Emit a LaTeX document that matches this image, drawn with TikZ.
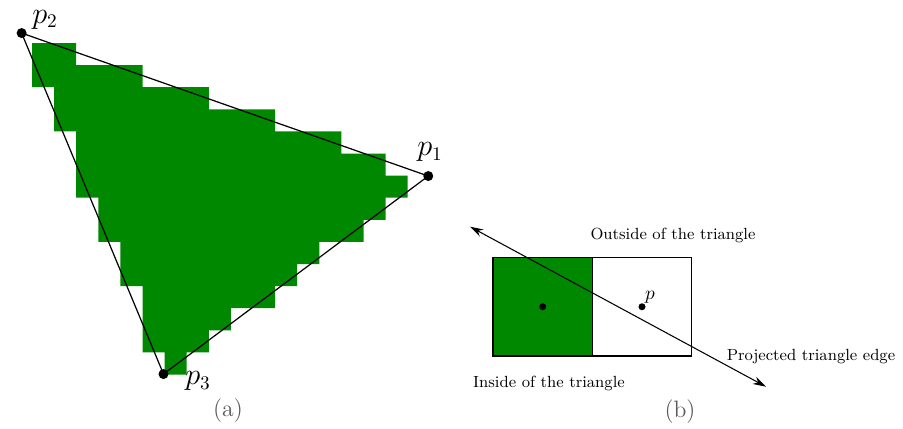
\documentclass[tikz,border=0pt]{standalone}
\usepackage{tikz}
\usetikzlibrary{arrows.meta}
\definecolor{cellgreen}{RGB}{0,136,0}

\begin{document}
\begin{tikzpicture}[
  lbl/.style={font=\fontsize{9.2}{11}\selectfont},
  vlbl/.style={font=\fontsize{16}{19}\selectfont, inner sep=0pt},
  captxt/.style={font=\fontsize{13.5}{16}\selectfont, text=black!65},
  pix/.style={rectangle, draw, line width=0.6pt, minimum width=1.99cm,
              minimum height=1.97cm, inner sep=0pt},
  arrow/.style={<->, line width=0.6pt, >={Stealth[length=7.5pt,width=4.5pt]}}
]
\useasboundingbox (0,0) rectangle (18.06,8.56);

%% (a) rasterised triangle, one run of cells per row
\begin{scope}[shift={(0.64,7.7)}, x=0.442cm, y=-0.442cm]
  \fill[cellgreen] \foreach \r/\a/\b in {0/0/2, 1/0/5, 2/1/8, 3/1/11, 4/2/14,
      5/2/16, 6/2/17, 7/3/16, 8/3/15, 9/4/13, 10/4/12, 11/5/11, 12/5/9,
      13/5/8, 14/6/7} {(\a,\r) rectangle (\b,\r+1)};
  \coordinate (p1) at (17.93,6.02);
  \coordinate (p2) at (-0.47,-0.45);
  \coordinate (p3) at (5.95,14.98);
\end{scope}

\draw[line width=0.7pt] (p1) -- (p2) -- (p3) -- cycle;
\foreach \p in {p1,p2,p3} \fill (\p) circle (0.1);

\node[vlbl] at (8.6,5.52)  (lp1) {$p_1$};
\node[vlbl] at (0.9,8.17)  (lp2) {$p_2$};
\node[vlbl] at (3.96,0.94) (lp3) {$p_3$};

%% (b) two pixels and the edge
\node[pix, fill=cellgreen] at (10.855,2.425) (inpx)  {};
\node[pix]                 at (12.84,2.425)  (outpx) {};
\fill (inpx.center)  circle (0.07);
\fill (outpx.center) circle (0.07);
\node[font=\fontsize{10.5}{12}\selectfont] at (13.0,2.62) (lp) {$p$};

\coordinate (e1) at (9.4,4.026);
\coordinate (e2) at (15.32,0.826);
\draw[arrow] (e1) -- (e2);

\node[lbl] at (13.46,3.86) (outside) {Outside of the triangle};
\node[lbl] at (10.98,0.90) (inside)  {Inside of the triangle};
\node[lbl] at (16.22,1.42) (edge)    {Projected triangle edge};

%% captions
\node[captxt] at (4.56,0.34) (capa) {(a)};
\node[captxt] at (13.6,0.32) (capb) {(b)};
\end{tikzpicture}
\end{document}
